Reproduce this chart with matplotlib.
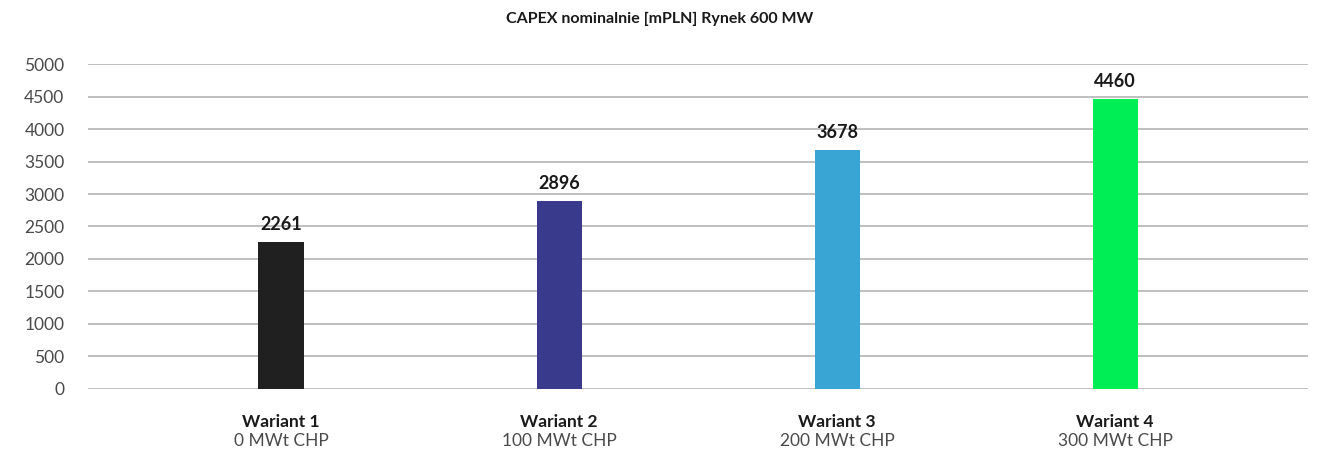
import matplotlib.pyplot as plt
import matplotlib.transforms as mtransforms

plt.rcParams['font.family'] = ['Lato', 'DejaVu Sans']

# chart data
variants = ['Wariant 1', 'Wariant 2', 'Wariant 3', 'Wariant 4']
subtitles = ['0 MWt CHP', '100 MWt CHP', '200 MWt CHP', '300 MWt CHP']
capex = [2261, 2896, 3678, 4460]
colors = ['#202020', '#3a3a8c', '#38a5d4', '#00ee55']

fig = plt.figure(figsize=(13.2, 4.53), dpi=100)
ax = fig.add_axes([0.0667, 0.1413, 0.9243, 0.7174])

x = list(range(len(variants)))
ax.bar(x, capex, width=0.162, color=colors, zorder=3)

# value labels above bars
for xi, v in zip(x, capex):
    ax.text(xi, v + 140, str(v), ha='center', va='bottom',
            fontsize=13, fontweight='bold', color='#1a1a1a')

ax.set_ylim(0, 5000)
ax.set_xlim(-0.694, 3.694)
ax.set_yticks(range(0, 5001, 500))
ax.yaxis.grid(True, color='#b4b4b4', linewidth=1.2, zorder=0)
ax.set_axisbelow(True)
ax.tick_params(axis='y', length=0, labelsize=12.5, labelcolor='#4a4a4a', pad=17)
ax.set_xticks([])
for s in ['top', 'right', 'left', 'bottom']:
    ax.spines[s].set_visible(False)

# two-line category labels
trans = mtransforms.blended_transform_factory(ax.transData, fig.transFigure)
for xi, name, sub in zip(x, variants, subtitles):
    ax.text(xi, 1 - 422 / 453, name, transform=trans, ha='center', va='center',
            fontsize=12.5, fontweight='bold', color='#1a1a1a')
    ax.text(xi, 1 - 441 / 453, sub, transform=trans, ha='center', va='center',
            fontsize=12.5, color='#4a4a4a')

fig.text(0.5, 1 - 19 / 453, 'CAPEX nominalnie [mPLN] Rynek 600 MW', ha='center',
         va='center', fontsize=11.5, fontweight='bold', color='#1a1a1a')

fig.savefig('out.png', dpi=100)
